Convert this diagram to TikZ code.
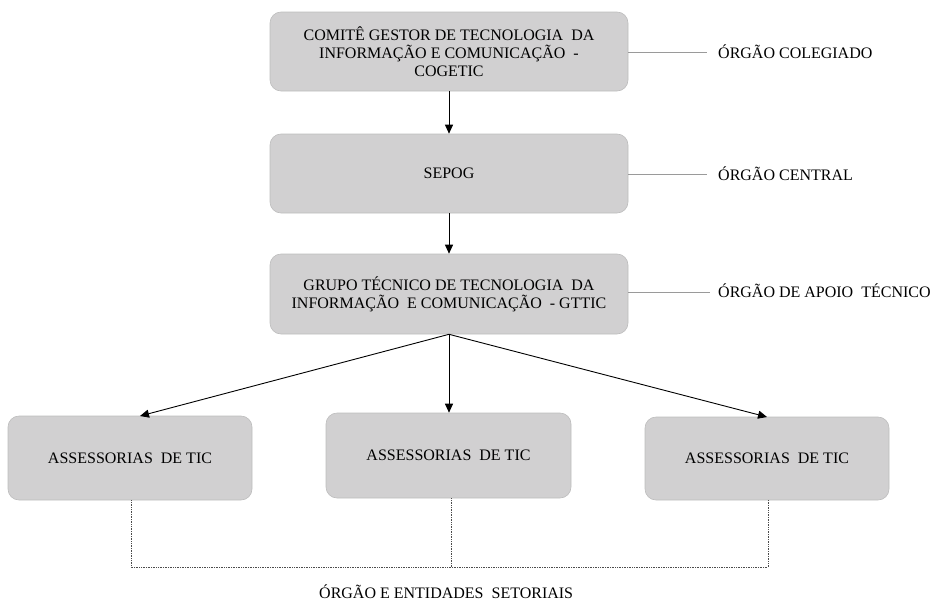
\documentclass[tikz,border=0pt]{standalone}
\usepackage{fontspec}
\setmainfont{Liberation Serif}
\usetikzlibrary{arrows.meta,calc}
\definecolor{boxfill}{HTML}{D1D0D1}
\definecolor{boxline}{HTML}{BDBDBD}
\definecolor{tagline}{HTML}{9A9A9A}
\begin{document}
\begin{tikzpicture}[x=1pt,y=-1pt,
  box/.style={draw=boxline,line width=0.6pt,fill=boxfill,rounded corners=11pt,
    align=center,inner sep=0pt,font=\fontsize{16}{18}\selectfont},
  tag/.style={anchor=west,inner sep=0pt,font=\fontsize{16}{18}\selectfont},
  arr/.style={-{Triangle[length=9pt,width=8pt]},line width=0.9pt,black},
  tagrule/.style={draw=tagline,line width=0.7pt},
  dots/.style={draw=black!70,line width=0.7pt,densely dotted}]
\useasboundingbox (0,0) rectangle (934,605);

\node[box,minimum width=358pt,minimum height=79pt] (A) at (449,51.5)
  {COMITÊ GESTOR DE TECNOLOGIA\ \ DA\\ INFORMAÇÃO E COMUNICAÇÃO\ \ -\\ COGETIC};
\node[box,minimum width=358pt,minimum height=79pt] (B) at (449,173.5) {SEPOG};
\node[box,minimum width=358pt,minimum height=80pt] (G) at (449,294)
  {GRUPO TÉCNICO DE TECNOLOGIA\ \ DA\\ INFORMAÇÃO\ \ E COMUNICAÇÃO\ \ - GTTIC};

\node[box,minimum width=244pt,minimum height=84pt] (L) at (130,458) {ASSESSORIAS\ \ DE TIC};
\node[box,minimum width=245pt,minimum height=85pt] (C) at (448.5,455.5) {ASSESSORIAS\ \ DE TIC};
\node[box,minimum width=244pt,minimum height=83pt] (R) at (767,458.5) {ASSESSORIAS\ \ DE TIC};

% side labels
\node[tag] (tA) at (718,52) {ÓRGÃO COLEGIADO};
\node[tag] (tB) at (718,174) {ÓRGÃO CENTRAL};
\node[tag] (tG) at (718,291) {ÓRGÃO DE APOIO\ \ TÉCNICO};
\coordinate (eA) at (707,52);
\coordinate (eB) at (707,174);
\coordinate (eG) at (710,292);
\draw[tagrule] (A.east |- eA) -- (eA);
\draw[tagrule] (B.east |- eB) -- (eB);
\draw[tagrule] (G.east |- eG) -- (eG);

% arrows
\draw[arr] (A.south) -- (B.north);
\draw[arr] (B.south) -- (G.north);
\coordinate (pL) at (140,416);
\coordinate (pR) at (767,417);
\draw[arr] (G.south) -- (pL);
\draw[arr] (G.south) -- (C.north -| G.south);
\draw[arr] (G.south) -- (pR);

% dotted connections
\coordinate (dL) at (131,567);
\coordinate (dC) at (451,567);
\coordinate (dR) at (768,567);
\draw[dots] (L.south -| dL) -- (dL) -- (dR) -- (R.south -| dR);
\draw[dots] (C.south -| dC) -- (dC);

\node[tag] (bottom) at (319,592) {ÓRGÃO E ENTIDADES\ \ SETORIAIS};
\end{tikzpicture}
\end{document}
